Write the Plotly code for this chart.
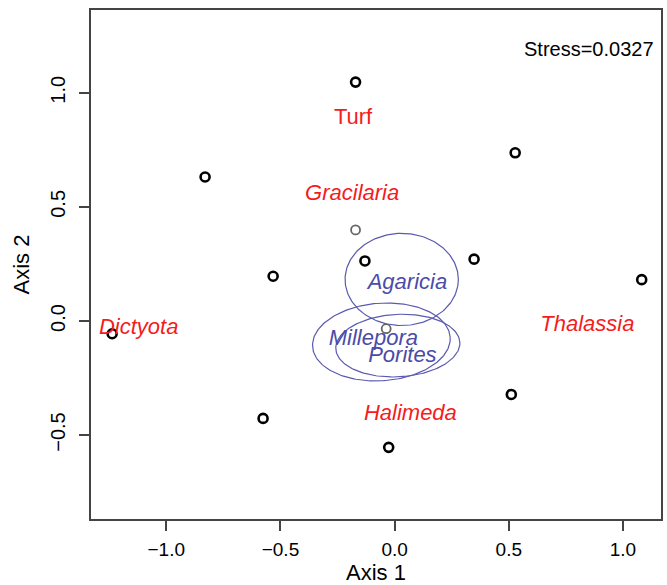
import numpy as np
import plotly.graph_objects as go

# NMDS site scores (Axis 1, Axis 2)
site_x = [-0.171, 0.528, -0.830, -0.130, -0.532, 0.348, 1.082, -1.237, 0.511, -0.576, -0.026]
site_y = [1.047, 0.737, 0.631, 0.263, 0.196, 0.271, 0.181, -0.056, -0.322, -0.427, -0.554]

# sites drawn in grey
grey_x = [-0.171, -0.037]
grey_y = [0.399, -0.034]

# benthic taxa labels (algae / seagrass)
algae_names = ["Turf", "Gracilaria", "Dictyota", "Thalassia", "Halimeda"]
algae_x = [-0.182, -0.186, -1.121, 0.844, 0.069]
algae_y = [0.887, 0.554, -0.034, -0.020, -0.412]
algae_italic = [False, True, True, True, True]

# coral taxa: label position and dispersion ellipse (centre, semi-axes, angle in degrees)
coral_names = ["Agaricia", "Millepora", "Porites"]
coral_lx = [0.056, -0.093, 0.034]
coral_ly = [0.165, -0.083, -0.154]
ell_cx = [0.031, -0.058, 0.014]
ell_cy = [0.182, -0.092, -0.108]
ell_a = [0.248, 0.302, 0.272]
ell_b = [0.202, 0.170, 0.137]
ell_ang = [0.0, 4.0, 3.0]

stress_label = "Stress=0.0327"

RED = "#f41c1c"
BLUE = "#4b4ba8"
FONT = "Liberation Sans, Arial, sans-serif"

fig = go.Figure()

t = np.linspace(0, 2 * np.pi, 200)
for cx, cy, a, b, ang in zip(ell_cx, ell_cy, ell_a, ell_b, ell_ang):
    th = np.deg2rad(ang)
    ex = cx + a * np.cos(t) * np.cos(th) - b * np.sin(t) * np.sin(th)
    ey = cy + a * np.cos(t) * np.sin(th) + b * np.sin(t) * np.cos(th)
    fig.add_trace(go.Scatter(x=ex, y=ey, mode="lines",
                             line=dict(color="#5a5ab0", width=1.2),
                             hoverinfo="skip", showlegend=False))

fig.add_trace(go.Scatter(x=grey_x, y=grey_y, mode="markers",
                         marker=dict(symbol="circle-open", size=9,
                                     color="#666666", line=dict(width=1.8, color="#666666")),
                         showlegend=False))
fig.add_trace(go.Scatter(x=site_x, y=site_y, mode="markers",
                         marker=dict(symbol="circle-open", size=9,
                                     color="black", line=dict(width=2.6, color="black")),
                         showlegend=False))

algae_text = [f"<i>{n}</i>" if it else n for n, it in zip(algae_names, algae_italic)]
fig.add_trace(go.Scatter(x=algae_x, y=algae_y, mode="text", text=algae_text,
                         textposition="middle center",
                         textfont=dict(family=FONT, size=22, color=RED),
                         showlegend=False))
fig.add_trace(go.Scatter(x=coral_lx, y=coral_ly, mode="text",
                         text=[f"<i>{n}</i>" for n in coral_names],
                         textposition="middle center",
                         textfont=dict(family=FONT, size=22, color=BLUE),
                         showlegend=False))

fig.add_annotation(x=1.143, y=1.194, xref="x", yref="y", text=stress_label,
                   showarrow=False, xanchor="right", yanchor="middle",
                   font=dict(family=FONT, size=20, color="black"))

axis_common = dict(showgrid=False, zeroline=False, showline=True, mirror=True,
                   linecolor="#444444", linewidth=1.5, ticks="outside", ticklen=10,
                   tickwidth=1.5, tickcolor="#444444")

fig.update_xaxes(range=[-1.3296, 1.1665], tickvals=[-1.0, -0.5, 0.0, 0.5, 1.0],
                 ticktext=["\u22121.0", "\u22120.5", "0.0", "0.5", "1.0"],
                 tickfont=dict(family=FONT, size=19, color="black"),
                 ticklabelstandoff=2,
                 title=dict(text="Axis 1", font=dict(family=FONT, size=22, color="black"),
                            standoff=6),
                 **axis_common)
fig.update_yaxes(range=[-0.868, 1.363], tickvals=[-0.5, 0.0, 0.5, 1.0],
                 ticktext=["\u22120.5", "0.0", "0.5", "1.0"], tickangle=-90,
                 tickfont=dict(family=FONT, size=20, color="black"),
                 ticklabelstandoff=6,
                 title=dict(text="Axis 2", font=dict(family=FONT, size=22, color="black"),
                            standoff=12),
                 **axis_common)

fig.update_layout(width=667, height=585, plot_bgcolor="white", paper_bgcolor="white",
                  margin=dict(l=91, r=4, t=10, b=64), showlegend=False)

fig.write_html("out.html")
